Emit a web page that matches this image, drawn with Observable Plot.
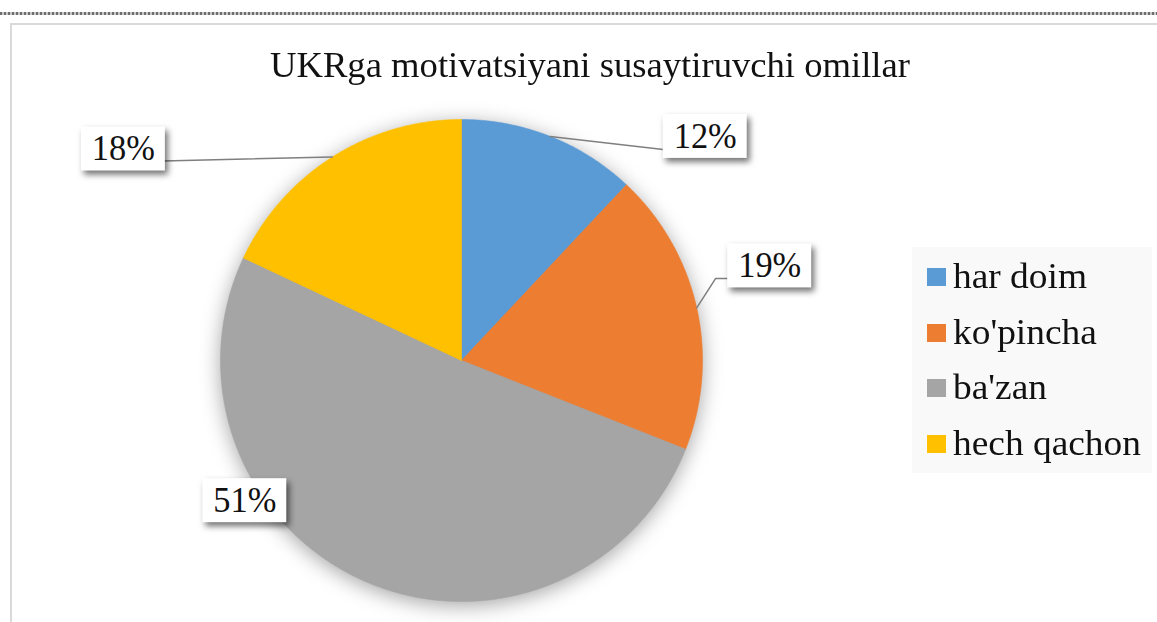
<!DOCTYPE html>
<html>
<head>
<meta charset="utf-8">
<script src="https://cdn.jsdelivr.net/npm/d3@7"></script>
<script src="https://cdn.jsdelivr.net/npm/@observablehq/plot@0.6"></script>
<style>
  html, body { margin: 0; padding: 0; background: #fff; }
  #wrap { position: relative; width: 1157px; height: 622px; overflow: hidden; background: #fff; font-family: "Liberation Serif", "LiberationSerif", "Tinos", "Times New Roman", "Times", "Nimbus Roman", "Nimbus Roman No9 L", "FreeSerif", "Noto Serif", "DejaVu Serif", serif; }
  #dots { position: absolute; left: 0; top: 12px; width: 1157px; height: 3px;
          background: repeating-linear-gradient(90deg, #6e6e6e 0 2px, #c8c8c8 2px 4px); }
  #frame { position: absolute; left: 10px; top: 23px; width: 1200px; height: 700px; border: 2px solid #d9d9d9; box-sizing: border-box; }
  #chart { position: absolute; left: 0; top: 0; }
  #title { position: absolute; left: 270px; top: 44px; font-size: 36px; color: #111; white-space: nowrap; transform-origin: 0 0; }
  #legend { position: absolute; left: 912px; top: 247px; width: 240px; height: 226px; background: #f9f9f9; }
  .item { position: absolute; left: 0; height: 40px; white-space: nowrap; font-size: 36px; color: #111; }
  .sw { position: absolute; width: 19px; height: 18px; }
  .lab { position: absolute; left: 41px; transform-origin: 0 0; }
</style>
</head>
<body>
<div id="wrap">
  <div id="dots"></div>
  <div id="frame"></div>
  <div id="chart"></div>
  <div id="title"></div>
  <div id="legend"></div>
</div>
<script>
// ---- data ----
const titleText = "UKRga motivatsiyani susaytiruvchi omillar";
const categories = ["har doim", "ko'pincha", "ba'zan", "hech qachon"];
const values = [12, 19, 51, 18];
const colors = ["#5B9BD5", "#ED7D31", "#A5A5A5", "#FFC000"];

// ---- layout (pixels) ----
const R = 241;                 // pie radius in px
const CX = 461, CY = 360;      // pie center in px
const labelOffset = [[155, 0], [73, -42], [-121, -81], [-209, -8]];
const leaderPts = [[[-42, 13]], [[-54, 12.5], [-42, 12.5]], null, [[40, 12]]];
const boxW = 84, boxH = 44;

// ---- geometry in unit coordinates ----
const total = d3.sum(values);
let acc = 0;
const slicePts = [], labels = [], leaders = [];
values.forEach((v, i) => {
  const a0 = acc / total * 2 * Math.PI;
  acc += v;
  const a1 = acc / total * 2 * Math.PI;
  const n = Math.max(2, Math.ceil((a1 - a0) / (Math.PI / 360)));
  slicePts.push({cat: categories[i], x: 0, y: 0});
  for (let k = 0; k <= n; k++) {
    const a = a0 + (a1 - a0) * k / n;
    slicePts.push({cat: categories[i], x: Math.sin(a), y: Math.cos(a)});
  }
  slicePts.push({cat: categories[i], x: 0, y: 0});
  const am = (a0 + a1) / 2;
  const ax = Math.sin(am), ay = Math.cos(am);
  const cx = ax + labelOffset[i][0] / R, cy = ay - labelOffset[i][1] / R;
  labels.push({cat: categories[i], text: v + "%", x: cx, y: cy,
    x1: cx - boxW / 2 / R, x2: cx + boxW / 2 / R, y1: cy - boxH / 2 / R, y2: cy + boxH / 2 / R});
  if (leaderPts[i]) {
    leaders.push({id: i, x: ax, y: ay});
    leaderPts[i].forEach(p => leaders.push({id: i, x: cx + p[0] / R, y: cy - p[1] / R}));
  }
});

const font = "'Liberation Serif', LiberationSerif, Tinos, 'Times New Roman', Times, 'Nimbus Roman', FreeSerif, 'Noto Serif', 'DejaVu Serif', serif";
const plot = Plot.plot({
  width: 1157, height: 622,
  margin: 0,
  x: {domain: [-1, 1], range: [CX - R, CX + R], axis: null},
  y: {domain: [-1, 1], range: [CY + R, CY - R], axis: null},
  color: {domain: categories, range: colors},
  style: {background: "transparent", overflow: "visible"},
  marks: [
    Plot.line(slicePts, {x: "x", y: "y", z: "cat", fill: "cat", stroke: "cat", strokeWidth: 0.6, curve: "linear"}),
    Plot.line(leaders, {x: "x", y: "y", z: "id", stroke: "#7f7f7f", strokeWidth: 1.5}),
    Plot.rect(labels, {x1: "x1", x2: "x2", y1: "y1", y2: "y2", fill: "white"}),
    Plot.text(labels, {x: "x", y: "y", text: "text", fontSize: 35, fontFamily: font, fill: "#111"})
  ]
});
document.getElementById("chart").appendChild(plot);

const svg = d3.select(plot);
const lineGroups = svg.selectAll('g[aria-label="line"]').nodes();
if (lineGroups[0]) lineGroups[0].style.filter = "drop-shadow(0px 4px 10px rgba(0,0,0,0.35))";
svg.selectAll('g[aria-label="rect"]').style("filter", "drop-shadow(3px 4px 3px rgba(0,0,0,0.55))");
svg.selectAll('g[aria-label="text"] text').each(function() {
  const w = this.getComputedTextLength();
  if (w > 0) { this.setAttribute("textLength", 63); this.setAttribute("lengthAdjust", "spacingAndGlyphs"); }
});

// ---- title ----
const title = document.getElementById("title");
title.textContent = titleText;
const tw = title.getBoundingClientRect().width;
if (tw > 0) title.style.transform = `scaleX(${640 / tw})`;

// ---- legend ----
const legend = document.getElementById("legend");
let legendScale = null;
categories.forEach((c, i) => {
  const item = document.createElement("div");
  item.className = "item";
  item.style.top = (9 + i * 55.7) + "px";
  item.style.width = "240px";
  const sw = document.createElement("div");
  sw.className = "sw";
  sw.style.left = "15px";
  sw.style.top = "12px";
  sw.style.background = colors[i];
  const lab = document.createElement("div");
  lab.className = "lab";
  lab.style.top = "0px";
  lab.style.lineHeight = "40px";
  lab.textContent = c;
  item.appendChild(sw);
  item.appendChild(lab);
  legend.appendChild(item);
  if (i === 0) {
    const w = lab.getBoundingClientRect().width;
    legendScale = w > 0 ? 134 / w : 1;
  }
  lab.style.transform = `scaleX(${legendScale})`;
});
</script>
</body>
</html>
